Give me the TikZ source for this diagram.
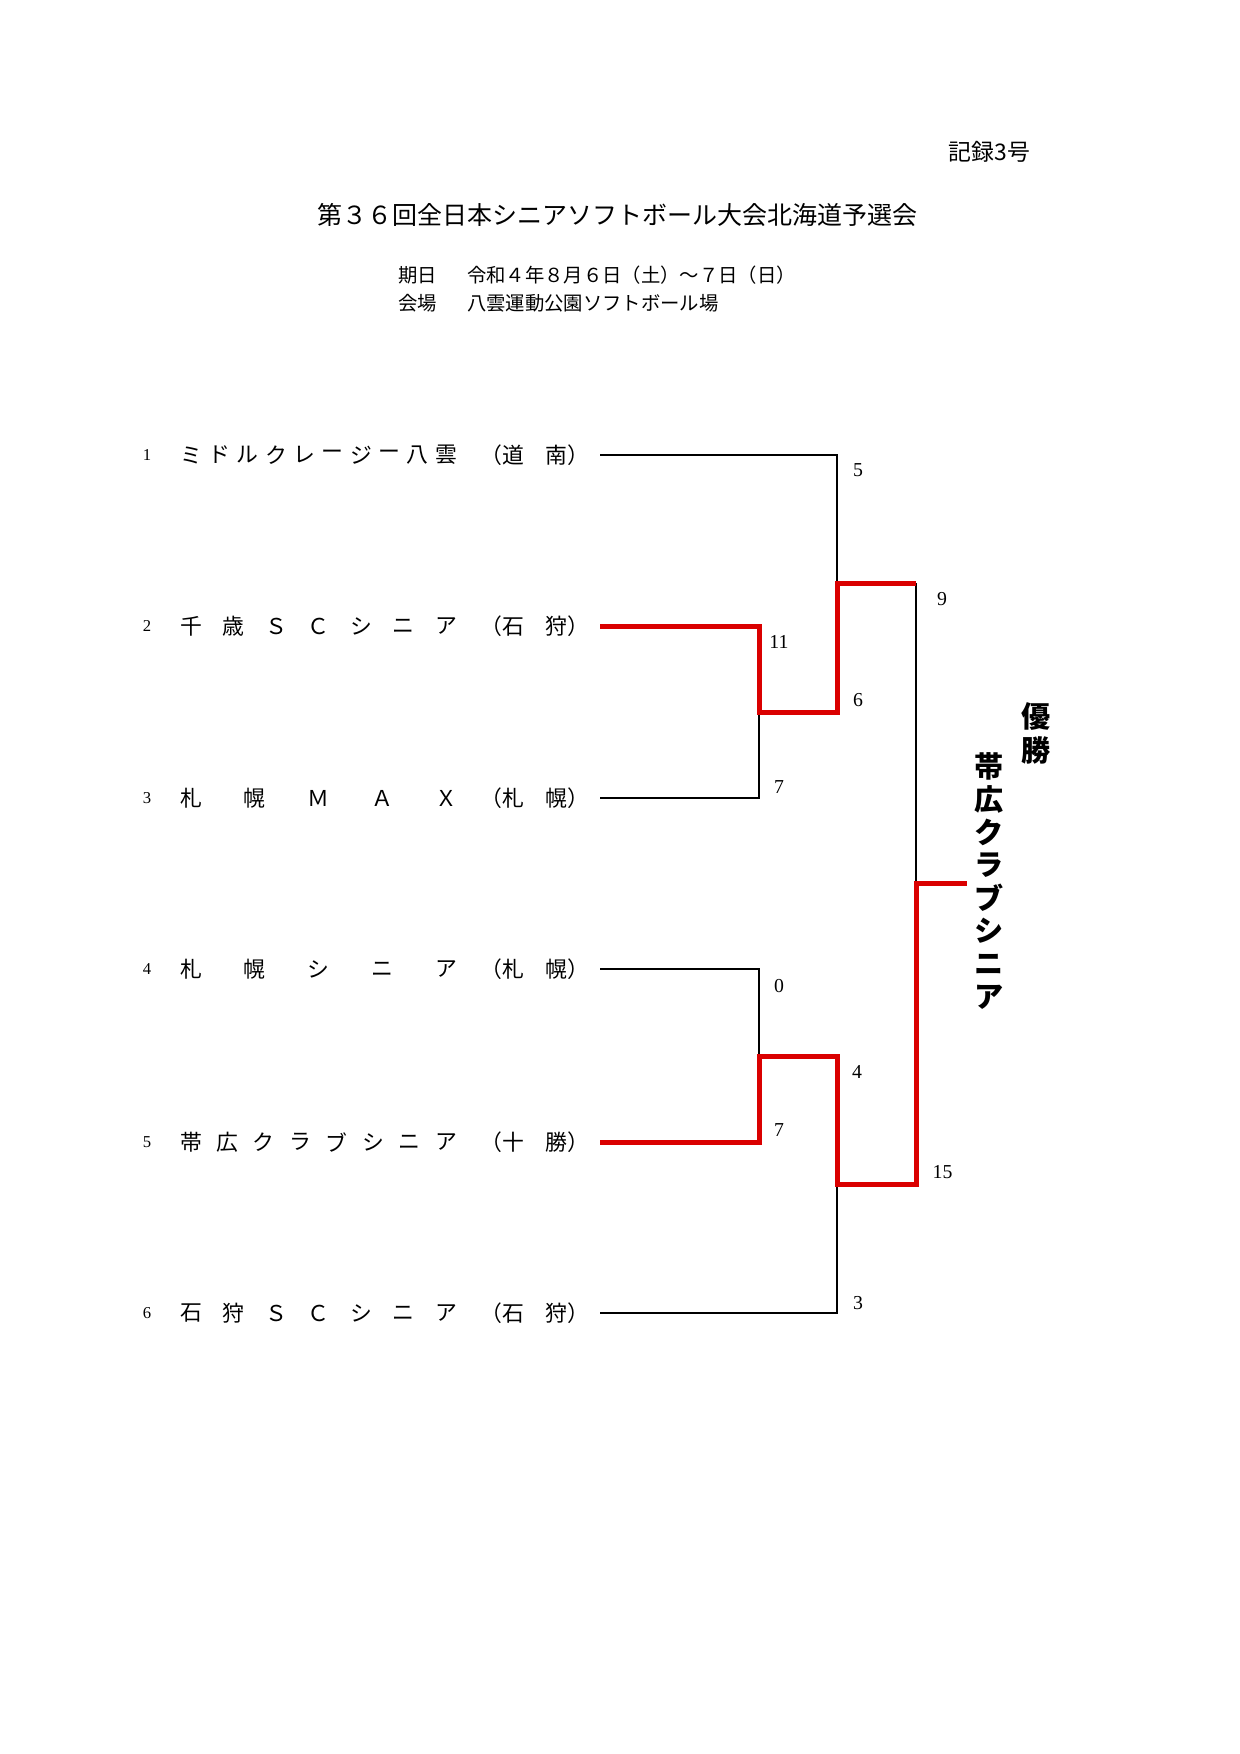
\documentclass[tikz,border=0pt]{standalone}
\usepackage{fontspec}
\newfontfamily\cjk{Noto Sans CJK JP}
\newfontfamily\numf{Liberation Serif}
\definecolor{winred}{RGB}{218,0,0}
\tikzset{
  x=0.48046pt, y=-0.48046pt,
  txt/.style={inner sep=0pt, outer sep=0pt},
  team/.style={txt, font=\cjk\fontsize{10.5}{12}\selectfont},
  pnum/.style={txt, font=\numf\fontsize{8}{9}\selectfont},
  score/.style={txt, font=\numf\fontsize{9.5}{11}\selectfont},
  info/.style={txt, anchor=west, font=\cjk\fontsize{9.3}{11}\selectfont},
  champ/.style={txt, font=\cjk\bfseries\fontsize{14}{16}\selectfont},
  bline/.style={draw=black, line width=0.7pt},
  rline/.style={draw=winred, line width=2.4pt, line join=miter},
}
\newcommand\teamname[3]{%
  \foreach \c [count=\i from 0] in {#3} {
    \node[team] (n#1-\i) at ({191+\i*255/(#2-1)}, #1) {\c};
  }%
}
\begin{document}
\begin{tikzpicture}
\useasboundingbox[fill=white] (0,0) rectangle (1239,1754);

% header
\node[txt, anchor=east, font=\cjk\fontsize{11}{13}\selectfont] (rec) at (1030,152) {記録3号};
\node[txt, font=\cjk\fontsize{12}{14}\selectfont] (title) at (617.5,215) {第３６回全日本シニアソフトボール大会北海道予選会};
\node[info] (k1) at (398,275) {期日};
\node[info] (k2) at (467,275) {令和４年８月６日（土）～７日（日）};
\node[info] (v1) at (398,303) {会場};
\node[info] (v2) at (467,303) {八雲運動公園ソフトボール場};

% entries
\node[pnum] (p1) at (147,455) {1};
\node[pnum] (p2) at (147,626) {2};
\node[pnum] (p3) at (147,798) {3};
\node[pnum] (p4) at (147,969) {4};
\node[pnum] (p5) at (147,1142) {5};
\node[pnum] (p6) at (147,1313) {6};

\teamname{455}{10}{ミ,ド,ル,ク,レ,ー,ジ,ー,八,雲}
\teamname{626}{7}{千,歳,Ｓ,Ｃ,シ,ニ,ア}
\teamname{798}{5}{札,幌,Ｍ,Ａ,Ｘ}
\teamname{969}{5}{札,幌,シ,ニ,ア}
\teamname{1142}{8}{帯,広,ク,ラ,ブ,シ,ニ,ア}
\teamname{1313}{7}{石,狩,Ｓ,Ｃ,シ,ニ,ア}

\node[team] (g1) at (535,455) {（道　南）};
\node[team] (g2) at (535,626) {（石　狩）};
\node[team] (g3) at (535,798) {（札　幌）};
\node[team] (g4) at (535,969) {（札　幌）};
\node[team] (g5) at (535,1142) {（十　勝）};
\node[team] (g6) at (535,1313) {（石　狩）};

% bracket coordinates
\coordinate (r1) at (600,455);
\coordinate (r2) at (600,626);
\coordinate (r3) at (600,798);
\coordinate (r4) at (600,969);
\coordinate (r5) at (600,1142);
\coordinate (r6) at (600,1313);
\coordinate (a2) at (759,626);
\coordinate (a3) at (759,798);
\coordinate (ao) at (759,712);
\coordinate (b4) at (759,969);
\coordinate (b5) at (759,1142);
\coordinate (bo) at (759,1056);
\coordinate (c1) at (837,455);
\coordinate (ci) at (837,712);
\coordinate (co) at (837,583);
\coordinate (di) at (837,1056);
\coordinate (d6) at (837,1313);
\coordinate (do) at (837,1184);
\coordinate (ft) at (916,583);
\coordinate (fb) at (916,1184);
\coordinate (fo) at (916,883);
\coordinate (win) at (967,883);

% losing paths
\draw[bline] (r1) -- (c1) -- (co);
\draw[bline] (r3) -- (a3) -- (ao);
\draw[bline] (r4) -- (b4) -- (bo);
\draw[bline] (r6) -- (d6) -- (do);
\draw[bline] (ft) -- (fo);

% winning paths
\draw[rline] (r2) -- (a2) -- (ao) -- (ci) -- (co) -- (ft);
\draw[rline] (r5) -- (b5) -- (bo) -- (di) -- (do) -- (fb) -- (fo) -- (win);

% scores
\node[score] (s1) at (858,470) {5};
\node[score] (s2) at (779,642) {11};
\node[score] (s3) at (779,787) {7};
\node[score] (s4) at (858,700) {6};
\node[score] (s5) at (942,599) {9};
\node[score] (s6) at (779,986) {0};
\node[score] (s7) at (779,1130) {7};
\node[score] (s8) at (857,1072) {4};
\node[score] (s9) at (858,1303) {3};
\node[score] (s10) at (942.5,1172) {15};

% champion
\node[champ] (w1) at (1036,716) {優};
\node[champ] (w2) at (1036,750) {勝};
\foreach \c [count=\i from 0] in {帯,広,ク,ラ,ブ,シ,ニ,ア} {
  \node[champ] (cw\i) at (989,{766+\i*33}) {\c};
}
\end{tikzpicture}
\end{document}
